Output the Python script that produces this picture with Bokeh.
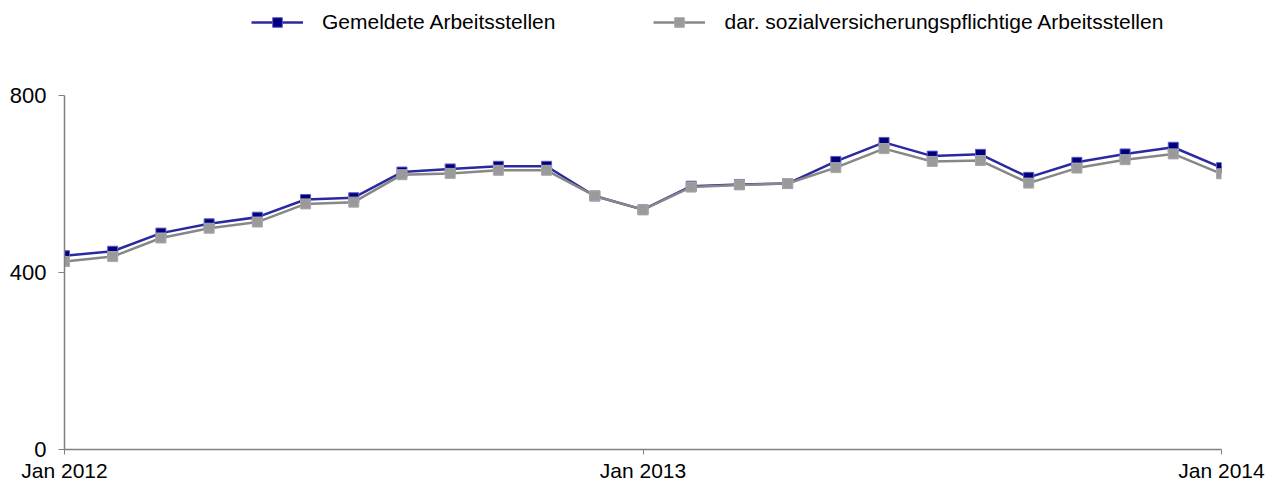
from bokeh.plotting import figure
from bokeh.models import Range1d, FixedTicker, Legend, LegendItem, ColumnDataSource
from bokeh.layouts import column
from bokeh.embed import file_html
from bokeh.resources import INLINE

months = ["Jan 2012", "Feb 2012", "Mar 2012", "Apr 2012", "May 2012", "Jun 2012",
          "Jul 2012", "Aug 2012", "Sep 2012", "Oct 2012", "Nov 2012", "Dec 2012",
          "Jan 2013", "Feb 2013", "Mar 2013", "Apr 2013", "May 2013", "Jun 2013",
          "Jul 2013", "Aug 2013", "Sep 2013", "Oct 2013", "Nov 2013", "Dec 2013",
          "Jan 2014"]
gemeldete = [438, 448, 489, 510, 525, 565, 569, 627, 634, 640, 640, 573,
             542, 595, 599, 601, 651, 694, 663, 667, 615, 649, 668, 683, 637]
svp = [425, 436, 478, 500, 514, 555, 559, 621, 624, 631, 631, 573,
       542, 593, 598, 601, 637, 680, 651, 653, 602, 636, 655, 668, 623]
series_names = ["Gemeldete Arbeitsstellen", "dar. sozialversicherungspflichtige Arbeitsstellen"]
y_ticks = [0, 400, 800]
x_tick_labels = {0: "Jan 2012", 12: "Jan 2013", 24: "Jan 2014"}

x = list(range(len(months)))
src = ColumnDataSource(dict(x=x, g=gemeldete, s=svp, m=months))

FONT = "Liberation Sans"
BLUE_LINE = "#2a2aa0"
BLUE_FILL = "#000080"
BLUE_EDGE = "#5c5cc0"
GRAY_LINE = "#878787"
GRAY_FILL = "#9a9a9a"
GRAY_EDGE = "#a8a8a8"


def draw_series(fig, source, ycol, lc, fc, ec):
    ln = fig.line("x", ycol, source=source, line_color=lc, line_width=2.5)
    mk = fig.scatter("x", ycol, source=source, marker="square", size=10,
                     fill_color=fc, line_color=ec, line_width=1)
    return ln, mk


# ---- main chart ----
p = figure(width=1270, height=445, output_backend="svg", toolbar_location=None,
           x_range=Range1d(0, len(months) - 1), y_range=Range1d(0, 800),
           min_border_left=64, min_border_right=49, min_border_top=55, min_border_bottom=36)
p.outline_line_color = None
p.xgrid.visible = False
p.ygrid.visible = False

draw_series(p, src, "g", BLUE_LINE, BLUE_FILL, BLUE_EDGE)
draw_series(p, src, "s", GRAY_LINE, GRAY_FILL, GRAY_EDGE)

for ax in (p.xaxis[0], p.yaxis[0]):
    ax.axis_line_color = "#808080"
    ax.axis_line_width = 1.5
    ax.major_tick_line_color = "#808080"
    ax.minor_tick_line_color = None
    ax.major_tick_in = 0
    ax.major_tick_out = 5
    ax.major_label_text_font = FONT
    ax.major_label_text_color = "#000000"

p.xaxis.ticker = FixedTicker(ticks=list(x_tick_labels.keys()))
p.xaxis.major_label_overrides = x_tick_labels
p.xaxis.major_label_text_font_size = "21px"
p.xaxis.major_label_standoff = 4

p.yaxis.ticker = FixedTicker(ticks=y_ticks)
p.yaxis.major_label_text_font_size = "22px"
p.yaxis.major_label_standoff = 12
p.yaxis.major_tick_out = 6

# ---- legend strip (series drawn off-range, only legend visible) ----
lf = figure(width=1270, height=40, output_backend="svg", toolbar_location=None,
            x_axis_type=None, y_axis_type=None,
            x_range=Range1d(1000, 1001), y_range=Range1d(0, 1),
            min_border_left=0, min_border_right=0, min_border_top=0, min_border_bottom=0)
lf.outline_line_color = None
lf.xgrid.visible = False
lf.ygrid.visible = False
lg1 = draw_series(lf, src, "g", BLUE_LINE, BLUE_FILL, BLUE_EDGE)
lg2 = draw_series(lf, src, "s", GRAY_LINE, GRAY_FILL, GRAY_EDGE)

legend = Legend(items=[LegendItem(label=series_names[0], renderers=list(lg1)),
                       LegendItem(label=series_names[1], renderers=list(lg2))],
                orientation="horizontal", location=(187, 6),
                padding=0, margin=0, spacing=98, label_standoff=19,
                glyph_width=52, glyph_height=24, label_height=24,
                label_text_font=FONT, label_text_font_size="21px",
                label_text_color="#000000",
                border_line_alpha=0, background_fill_alpha=0)
lf.add_layout(legend, "center")

layout = column(lf, p, spacing=0)
open("out.html", "w").write(file_html(layout, INLINE))
